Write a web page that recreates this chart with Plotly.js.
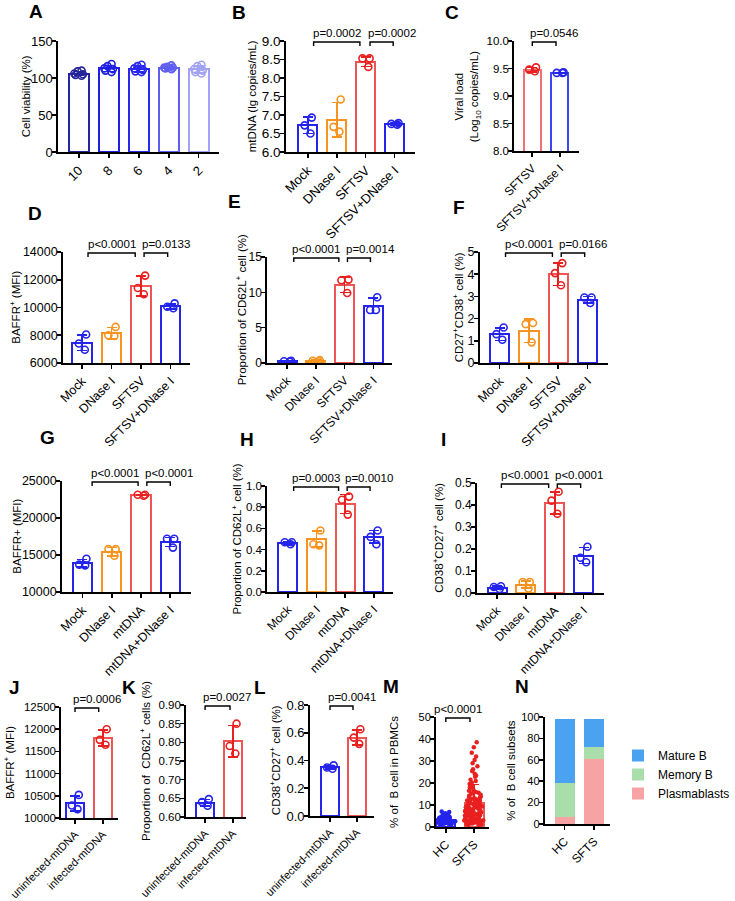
<!DOCTYPE html>
<html><head><meta charset="utf-8">
<script src="https://cdn.plot.ly/plotly-3.0.1.min.js"></script>
<style>html,body{margin:0;padding:0;background:#fff;}#chart{width:735px;height:901px;}</style>
</head><body><div id="chart"></div>
<script>
// ---------------- DATA ----------------
const catsA = ['10','8','6','4','2'];
const meansA = [106, 113, 112.5, 114, 111.5];
const sdA = [2.8, 4, 4, 1.8, 4.5];
const ptsA = [[103,104,105,106,109,110],[108,110,112,113,116,119],[108,109,111,113,116,118],[112,113,114,114,115,117],[106,108,110,112,116,118]];

const catsB = ['Mock','DNase I','SFTSV','SFTSV+DNase I'];
const meansB = [6.72, 6.87, 8.44, 6.76];
const sdB = [0.22, 0.47, 0.13, 0.03];
const ptsB = [[6.5,6.72,6.93],[6.55,6.68,7.42],[8.3,8.53,8.53],[6.74,6.78,6.76]];

const catsC = ['SFTSV','SFTSV+DNase I'];
const meansC = [9.48, 9.42];
const sdC = [0.04, 0.01];
const ptsC = [[9.45,9.52,9.48],[9.42,9.43,9.42]];

const catsD = ['Mock','DNase I','SFTSV','SFTSV+DNase I'];
const meansD = [7460, 8150, 11550, 10080];
const sdD = [560, 400, 700, 180];
const ptsD = [[6950,7400,8050],[7950,8000,8600],[10950,11400,12300],[9950,10050,10300]];

const catsE = ['Mock','DNase I','SFTSV','SFTSV+DNase I'];
const meansE = [0.25, 0.32, 11.1, 8.1];
const sdE = [0.05, 0.08, 1.1, 1.1];
const ptsE = [[0.2,0.25,0.3],[0.25,0.3,0.4],[9.9,11.7,11.8],[7.5,7.5,9.3]];

const catsF = ['Mock','DNase I','SFTSV','SFTSV+DNase I'];
const meansF = [1.3, 1.45, 4.0, 2.85];
const sdF = [0.28, 0.52, 0.5, 0.15];
const ptsF = [[1.05,1.3,1.6],[0.93,1.75,1.8],[3.5,4.05,4.5],[2.7,2.95,2.95]];

const catsG = ['Mock','DNase I','mtDNA','mtDNA+DNase I'];
const meansG = [13900, 15450, 23100, 16750];
const sdG = [500, 550, 80, 600];
const ptsG = [[13600,13700,14500],[14900,15800,15800],[23000,23150,23150],[16000,17200,17200]];

const catsH = ['Mock','DNase I','mtDNA','mtDNA+DNase I'];
const meansH = [0.46, 0.50, 0.83, 0.52];
const sdH = [0.015, 0.075, 0.09, 0.06];
const ptsH = [[0.45,0.47,0.47],[0.44,0.45,0.58],[0.73,0.87,0.90],[0.45,0.52,0.58]];

const catsI = ['Mock','DNase I','mtDNA','mtDNA+DNase I'];
const meansI = [0.025, 0.038, 0.41, 0.17];
const sdI = [0.006, 0.016, 0.05, 0.036];
const ptsI = [[0.018,0.027,0.031],[0.02,0.05,0.05],[0.36,0.42,0.46],[0.14,0.16,0.21]];

const catsJ = ['uninfected-mtDNA','infected-mtDNA'];
const meansJ = [10330, 11800];
const sdJ = [170, 180];
const ptsJ = [[10200,10280,10520],[11650,11760,12000]];

const catsK = ['uninfected-mtDNA','infected-mtDNA'];
const meansK = [0.638, 0.803];
const sdK = [0.009, 0.042];
const ptsK = [[0.63,0.64,0.648],[0.77,0.79,0.85]];

const catsL = ['uninfected-mtDNA','infected-mtDNA'];
const meansL = [0.35, 0.565];
const sdL = [0.012, 0.055];
const ptsL = [[0.34,0.35,0.365],[0.52,0.565,0.625]];

const catsM = ['HC','SFTS'];
const meansM = [3.0, 10.9];
const sdM = [1.6, 8.5];
const ptsMhc = [0.7,1.1,1.3,1.4,1.6,1.8,1.9,2.0,2.0,2.2,2.3,2.3,2.5,2.6,2.7,2.8,2.8,3.0,3.1,3.1,3.3,3.4,3.5,3.6,3.8,3.9,4.1,4.3,4.4,4.7,4.9,5.2,5.5,5.9,6.3,6.8,7.1,2.4,2.9,1.5];
const ptsMsfts = [38.5,36.2,33.8,32.1,30.4,29.0,27.6,26.3,25.5,24.2,23.4,22.8,21.5,20.9,20.1,19.6,18.8,18.2,17.9,17.1,16.5,16.0,15.6,15.1,14.7,14.2,13.9,13.4,13.0,12.8,12.3,12.0,11.7,11.3,11.0,10.6,10.4,10.1,9.8,9.5,9.3,9.0,8.8,8.5,8.3,8.1,7.8,7.6,7.4,7.1,6.9,6.7,6.5,6.3,6.0,5.8,5.6,5.4,5.2,5.0,4.8,4.6,4.4,4.2,4.0,3.8,3.6,3.4,3.2,3.0,2.8,2.6,2.4,2.2,2.0,1.8,1.6,1.4,1.2,1.0,0.8,12.5,9.7,7.3,5.9,4.7,3.9,3.1,2.5,1.9,6.6,8.7,10.8,13.6,15.9,11.9,7.0,5.3,4.1,2.9];

const catsN = ['HC','SFTS'];
const plasmaN = [6.7, 61];
const memoryN = [31.9, 11.1];
const matureN = [59.5, 26];
const seriesN = ['Plasmablasts','Memory B','Mature B'];

const pB = ['p=0.0002','p=0.0002'];
const pC = ['p=0.0546'];
const pD = ['p<0.0001','p=0.0133'];
const pE = ['p<0.0001','p=0.0014'];
const pF = ['p<0.0001','p=0.0166'];
const pG = ['p<0.0001','p<0.0001'];
const pH = ['p=0.0003','p=0.0010'];
const pI = ['p<0.0001','p<0.0001'];
const pJ = ['p=0.0006'];
const pK = ['p=0.0027'];
const pL = ['p=0.0041'];
const pM = ['p<0.0001'];

// ---------------- STYLE / LAYOUT ----------------
const W = 735, H = 901;
const FONT = 'Liberation Sans, Arial, Helvetica, sans-serif';
const BLUE = '#2424ec', ORANGE = '#f7931e', REDL = '#f05454', RED = '#e8201f';
const c4line = [BLUE, ORANGE, REDL, BLUE];
const c4pt = [BLUE, ORANGE, RED, BLUE];
const colA = ['#25259c','#1f1fe4','#2828ee','#5e5ef0','#a3a3f5'];

// br: [from, to, align]  (c = centred text, l = text starting at bracket start)
const panels = [
 {L:'A', cats:catsA, means:meansA, sd:sdA, pts:ptsA, line:colA, pt:colA, box:[61,230,41,152], xr:[-0.69,4.69], yr:[0,150], dtick:50, fmt:'', title:'Cell viability (%)', tx:27, tfs:13, xfs:13, p:[], br:[], letter:[38,11], bw:0.66},
 {L:'B', cats:catsB, means:meansB, sd:sdB, pts:ptsB, line:c4line, pt:c4pt, box:[300,435,41,152], xr:[-0.75,3.7], yr:[6,9], dtick:0.5, fmt:'.1f', title:'mtDNA (lg copies/mL)', tx:264, tfs:13.5, xfs:13, p:pB, br:[[0.2,1.8,'c'],[2.15,2.95,'l']], letter:[251,12], bw:0.66},
 {L:'C', cats:catsC, means:meansC, sd:sdC, pts:ptsC, line:['#f07078','#3a46ee'], pt:[RED,BLUE], box:[539,607,41,151], xr:[-0.66,1.69], yr:[8,10], dtick:0.5, fmt:'.1f', title:'Viral load<br>(Log<sub>10</sub> copies/mL)', tx:490, tfs:11.5, xfs:12, p:pC, br:[[0,0.86,'l']], letter:[474,12], bw:0.62},
 {L:'D', cats:catsD, means:meansD, sd:sdD, pts:ptsD, line:c4line, pt:c4pt, box:[66,199,252,363], xr:[-0.65,3.65], yr:[6000,14000], dtick:2000, fmt:'d', title:'BAFFR<sup>+</sup> (MFI)', tx:16, tfs:12.5, xfs:12.5, p:pD, br:[[0.2,1.8,'c'],[2.1,2.9,'l']], letter:[37,213], bw:0.66},
 {L:'E', cats:catsE, means:meansE, sd:sdE, pts:ptsE, line:c4line, pt:c4pt, box:[280,411,257,363], xr:[-0.7,3.65], yr:[0,15], dtick:5, fmt:'', title:'Proportion of CD62L<sup>+</sup> cell (%)', tx:253, tfs:12, xfs:12, p:pE, br:[[0.23,1.8,'c'],[2.1,2.9,'l']], letter:[246,201], bw:0.66},
 {L:'F', cats:catsF, means:meansF, sd:sdF, pts:ptsF, line:c4line, pt:c4pt, box:[503,637,252,363], xr:[-0.68,3.68], yr:[0,5], dtick:1, fmt:'', title:'CD27<sup>+</sup>CD38<sup>+</sup> cell (%)', tx:481, tfs:12.5, xfs:12.5, p:pF, br:[[0.2,1.8,'c'],[2.1,2.9,'l']], letter:[481,207], bw:0.66},
 {L:'G', cats:catsG, means:meansG, sd:sdG, pts:ptsG, line:c4line, pt:c4pt, box:[65,200,481,592], xr:[-0.7,3.7], yr:[10000,25000], dtick:5000, fmt:'d', title:'BAFFR+ (MFI)', tx:17, tfs:12.5, xfs:12.5, p:pG, br:[[0.33,1.9,'c'],[2.2,3.0,'l']], letter:[50,437], bw:0.66},
 {L:'H', cats:catsH, means:meansH, sd:sdH, pts:ptsH, line:c4line, pt:c4pt, box:[280,412,486,592], xr:[-0.73,3.67], yr:[0,1], dtick:0.2, fmt:'.1f', title:'Proportion of CD62L<sup>+</sup> cell (%)', tx:248, tfs:11.5, xfs:12, p:pH, br:[[0.2,1.77,'c'],[2.07,2.87,'l']], letter:[259,439], bw:0.66},
 {L:'I', cats:catsI, means:meansI, sd:sdI, pts:ptsI, line:c4line, pt:c4pt, box:[500,633,483,593], xr:[-0.7,3.7], yr:[0,0.5], dtick:0.1, fmt:'.1f', title:'CD38<sup>+</sup>CD27<sup>+</sup> cell (%)', tx:459, tfs:12, xfs:12, p:pI, br:[[0.15,1.79,'c'],[2.09,2.9,'l']], letter:[465,439], bw:0.66},
 {L:'J', cats:catsJ, means:meansJ, sd:sdJ, pts:ptsJ, line:[BLUE,REDL], pt:[BLUE,RED], box:[64,124,707,818], xr:[-0.5,1.55], yr:[10000,12500], dtick:500, fmt:'d', title:'BAFFR<sup>+</sup> (MFI)', tx:9, tfs:11.5, xfs:11, p:pJ, br:[[0,0.85,'l']], letter:[15,687], bw:0.66},
 {L:'K', cats:catsK, means:meansK, sd:sdK, pts:ptsK, line:[BLUE,REDL], pt:[BLUE,RED], box:[195,258,705,817], xr:[-0.69,1.48], yr:[0.6,0.9], dtick:0.05, fmt:'.2f', title:'Proportion of  CD62L<sup>+</sup> cells (%)', tx:152, tfs:11.5, xfs:11, p:pK, br:[[0,0.9,'l']], letter:[135,687], bw:0.66},
 {L:'L', cats:catsL, means:meansL, sd:sdL, pts:ptsL, line:[BLUE,REDL], pt:[BLUE,RED], box:[325,392,705,816], xr:[-0.75,1.64], yr:[0,0.8], dtick:0.2, fmt:'.1f', title:'CD38<sup>+</sup>CD27<sup>+</sup> cell (%)', tx:288, tfs:13, xfs:11, p:pL, br:[[0,0.86,'l']], letter:[273,687], bw:0.66},
 {L:'M', cats:catsM, means:meansM, sd:sdM, pts:[ptsMhc, ptsMsfts], line:[BLUE,REDL], pt:[BLUE,RED], box:[457,513,717,827], xr:[-0.35,1.53], yr:[0,50], dtick:10, fmt:'', title:'% of  B cell in PBMCs', tx:413, tfs:11, xfs:12, p:pM, br:[[0,0.85,'c']], letter:[410,686], bw:0.67, swarm:true},
 {L:'N', cats:catsN, stacked:true, box:[571,640,717,824], xr:[-0.68,1.55], yr:[0,100], dtick:20, fmt:'', title:'% of  B cell subsets', tx:535, tfs:11, xfs:12, p:[], br:[], letter:[547,686], bw:0.68}
];

const data = [];
const layout = {
  width: W, height: H, margin:{l:0,r:0,t:0,b:0}, autosize:false,
  paper_bgcolor:'#fff', plot_bgcolor:'rgba(0,0,0,0)',
  barmode:'stack', boxmode:'overlay', showlegend:true,
  font:{family:FONT, color:'#000'},
  legend:{x:0.882, y:1-741/H, xanchor:'left', yanchor:'top', traceorder:'reversed', font:{family:FONT,size:12,color:'#000'}, bgcolor:'rgba(0,0,0,0)', itemclick:false},
  shapes:[], annotations:[]
};

function xPx(p, v){ return p.box[0] + (v - p.xr[0])/(p.xr[1]-p.xr[0])*(p.box[1]-p.box[0]); }

const nColors = {'Plasmablasts':'#f8a3a3','Memory B':'#a9deaa','Mature B':'#4ba2f0'};
const nValues = {'Plasmablasts':plasmaN,'Memory B':memoryN,'Mature B':matureN};

panels.forEach((p,k)=>{
  const n = k+1, s = n===1 ? '' : String(n);
  const xa = 'x'+s, ya = 'y'+s;
  if (p.stacked) {
    seriesN.forEach(name=>{
      data.push({type:'bar', name:name, x:p.cats, y:nValues[name], width:p.bw, xaxis:xa, yaxis:ya,
        marker:{color:nColors[name], line:{width:0}}, showlegend:true, hoverinfo:'x+y+name'});
    });
  } else {
    p.cats.forEach((c,i)=>{
      data.push({type:'bar', x:[c], y:[p.means[i]], width:p.bw, xaxis:xa, yaxis:ya,
        marker:{color:'#ffffff', line:{color:p.line[i], width:2}},
        error_y:{type:'data', array:[p.sd[i]], visible:true, color:p.pt[i], thickness:1.6, width:5},
        showlegend:false, hoverinfo:'x+y'});
    });
    p.cats.forEach((c,i)=>{
      const sw = !!p.swarm;
      data.push({type:'box', x:p.pts[i].map(()=>c), y:p.pts[i], xaxis:xa, yaxis:ya,
        boxpoints:'all', jitter: sw ? 1 : 0.7, pointpos:0, width: sw ? 0.75 : 0.5,
        fillcolor:'rgba(0,0,0,0)', line:{color:'rgba(0,0,0,0)', width:0},
        marker: sw ? {color:p.pt[i], size:4.5, symbol:'circle'} : {color:p.pt[i], size:7, symbol:'circle-open', line:{width:1.6}},
        showlegend:false, hoveron:'points', hoverinfo:'y'});
    });
  }
  const axBase = {showline:true, linecolor:'#000', linewidth:1.8, ticks:'outside', ticklen:4, tickwidth:1.6, tickcolor:'#000',
    showgrid:false, zeroline:false, fixedrange:true, automargin:false};
  layout['xaxis'+s] = Object.assign({}, axBase, {domain:[p.box[0]/W, p.box[1]/W], anchor:ya, type:'category',
    categoryorder:'array', categoryarray:p.cats, range:p.xr, tickangle:-45,
    tickfont:{family:FONT, size:p.xfs, color:'#000'}});
  layout['yaxis'+s] = Object.assign({}, axBase, {domain:[1-p.box[3]/H, 1-p.box[2]/H], anchor:xa, range:p.yr,
    tick0:p.yr[0], dtick:p.dtick, tickformat:p.fmt, ticklabelstandoff:-3, tickfont:{family:FONT, size:p.tfs, color:'#000'}});
  // y-axis title (rotated text)
  layout.annotations.push({xref:'paper', yref:'paper', x:p.tx/W, y:1-((p.box[2]+p.box[3])/2)/H, xanchor:'center', yanchor:'middle',
    textangle:-90, text:p.title, showarrow:false, font:{family:FONT, size:11.5, color:'#000'}});
  // panel letter
  layout.annotations.push({xref:'paper', yref:'paper', x:p.letter[0]/W, y:1-p.letter[1]/H, xanchor:'center', yanchor:'middle',
    text:'<b>'+p.L+'</b>', showarrow:false, font:{family:FONT, size:19, color:'#000'}});
  // significance brackets
  p.br.forEach((b,j)=>{
    const x0 = xPx(p,b[0]), x1 = xPx(p,b[1]), yy = p.box[2] + 1;
    const tk = 4;
    layout.shapes.push({type:'path', xref:'paper', yref:'paper', line:{color:'#000', width:1.4},
      path:'M'+(x0/W)+','+(1-(yy+tk)/H)+' L'+(x0/W)+','+(1-yy/H)+' L'+(x1/W)+','+(1-yy/H)+' L'+(x1/W)+','+(1-(yy+tk)/H)});
    const centred = b[2]==='c';
    layout.annotations.push({xref:'paper', yref:'paper', x:(centred ? (x0+x1)/2 : x0-4)/W, y:1-(yy-1)/H,
      xanchor: centred ? 'center' : 'left', yanchor:'bottom', text:p.p[j], showarrow:false,
      font:{family:FONT, size:11.5, color:'#000'}});
  });
});

Plotly.newPlot('chart', data, layout, {staticPlot:true, displayModeBar:false});
</script></body></html>
